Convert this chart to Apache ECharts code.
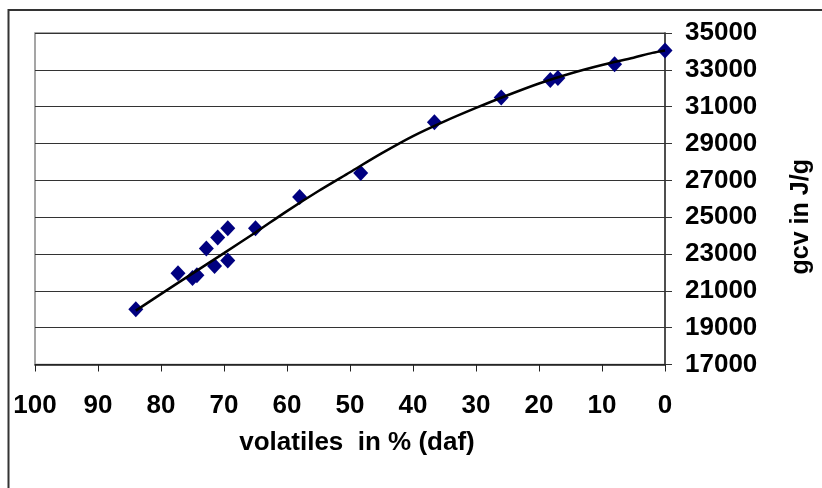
<!DOCTYPE html>
<html>
<head>
<meta charset="utf-8">
<script src="https://cdn.jsdelivr.net/npm/echarts@6/dist/echarts.min.js"></script>
<style>
html,body{margin:0;padding:0;background:#fff;}
#chart{width:822px;height:488px;}
</style>
</head>
<body>
<div id="chart"></div>
<script>
// Measured points: volatiles (% daf) vs gross calorific value (J/g)
var volatiles = [84, 77.3, 75, 74.3, 72.8, 71.5, 71, 69.4, 69.4, 65, 58, 48.3, 36.6, 26, 18.2, 17, 8, 0];
var gcv = [20000, 21950, 21700, 21850, 23300, 22350, 23900, 24400, 22650, 24400, 26100, 27400, 30150, 31500, 32450, 32550, 33300, 34050];

// Trend line
var trendX = [84, 77, 70, 65, 60, 55, 50, 45, 40, 35, 30, 25, 20, 15, 10, 5, 2, 0];
var trendY = [19925, 21500, 23050, 24170, 25330, 26420, 27440, 28460, 29400, 30200, 30930, 31620, 32260, 32800, 33260, 33660, 33920, 34050];

var xTicks = {min: 0, max: 100, interval: 10};
var yTicks = {min: 17000, max: 35000, interval: 2000};

var xName = 'volatiles  in % (daf)';
var yName = 'gcv in J/g';

var pts = volatiles.map(function (v, i) { return [v, gcv[i]]; });
var trend = trendX.map(function (v, i) { return [v, trendY[i]]; });

var font = '"Liberation Sans", Arial, sans-serif';
var chart = echarts.init(document.getElementById('chart'), null, {renderer: 'canvas'});
chart.setOption({
  animation: false,
  backgroundColor: '#fff',
  graphic: [{
    type: 'rect', z: 100,
    shape: {x: 8.5, y: 10, width: 900, height: 600},
    style: {fill: 'none', stroke: '#333', lineWidth: 2}
  }],
  grid: {left: 35, right: 154, top: 33, bottom: 123.5, show: true, borderColor: '#888', borderWidth: 1.5, backgroundColor: 'transparent'},
  xAxis: {
    type: 'value', inverse: true,
    min: xTicks.min, max: xTicks.max, interval: xTicks.interval,
    position: 'bottom',
    name: xName, nameLocation: 'middle', nameGap: 65,
    nameTextStyle: {fontFamily: font, fontWeight: 'bold', fontSize: 26, color: '#000', padding: [0, 0, 0, 14]},
    axisLine: {show: true, onZero: false, lineStyle: {color: '#222', width: 1.5}},
    axisTick: {show: true, inside: false, length: 7, lineStyle: {color: '#222', width: 1}},
    axisLabel: {margin: 28, fontFamily: font, fontWeight: 'bold', fontSize: 26, color: '#000'},
    splitLine: {show: false}
  },
  yAxis: {
    type: 'value',
    min: yTicks.min, max: yTicks.max, interval: yTicks.interval,
    position: 'right',
    name: yName, nameLocation: 'middle', nameGap: 124, nameRotate: 90,
    nameTextStyle: {fontFamily: font, fontWeight: 'bold', fontSize: 25, color: '#000', padding: [0, 36, 0, 0]},
    axisLine: {show: true, lineStyle: {color: '#333', width: 1.5}},
    axisTick: {show: true, inside: false, length: 7, lineStyle: {color: '#333', width: 1}},
    axisLabel: {margin: 20, fontFamily: font, fontWeight: 'bold', fontSize: 26, color: '#000',
      formatter: function (v) { return String(v); }},
    splitLine: {show: true, lineStyle: {color: '#333', width: 1.2}}
  },
  series: [{
    type: 'line', data: trend, smooth: 0.3, showSymbol: false, symbol: 'none',
    lineStyle: {color: '#000', width: 2.5}, z: 3
  }, {
    type: 'scatter', data: pts, symbol: 'diamond', symbolSize: [15, 16],
    itemStyle: {color: '#000080', opacity: 1}, z: 2
  }]
});
</script>
</body>
</html>
